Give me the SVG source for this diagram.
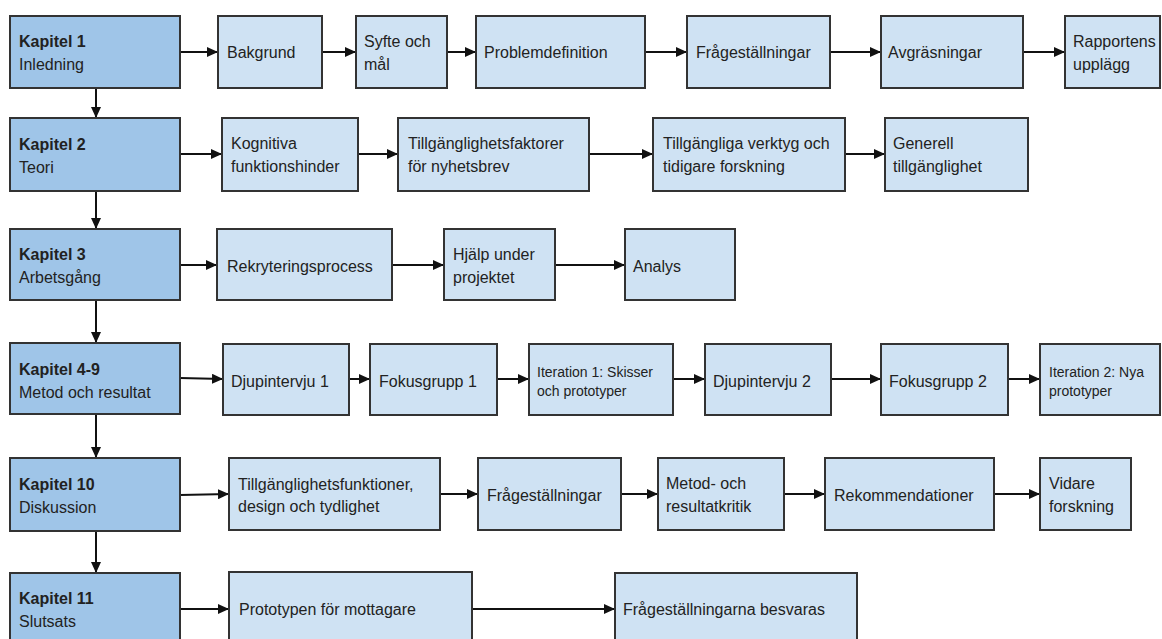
<svg xmlns="http://www.w3.org/2000/svg" width="1162" height="639" viewBox="0 0 1162 639">
<style>
.ch{fill:#9fc5e8;stroke:#333;stroke-width:2}
.sb{fill:#cfe2f3;stroke:#333;stroke-width:2}
text{font-family:"Liberation Sans",Arial,sans-serif;font-size:16px;fill:#222}
.b{font-weight:bold}
.s{font-size:14px}
.c{stroke:#111;stroke-width:2;fill:none;marker-end:url(#ah)}
</style>
<defs>
<marker id="ah" markerUnits="userSpaceOnUse" markerWidth="11" markerHeight="10" refX="11" refY="5" orient="auto">
<path d="M0,0 L11,5 L0,10 z" fill="#111"/>
</marker>
</defs>
<rect width="1162" height="639" fill="#fff"/>
<g id="connectors">
<line class="c" x1="96" y1="88" x2="96" y2="118"/>
<line class="c" x1="96" y1="191" x2="96" y2="229"/>
<line class="c" x1="96" y1="300" x2="96" y2="343"/>
<line class="c" x1="96" y1="414" x2="96" y2="458"/>
<line class="c" x1="96" y1="531" x2="96" y2="573"/>
<line class="c" x1="180" y1="52" x2="218" y2="52"/>
<line class="c" x1="322" y1="52" x2="356" y2="52"/>
<line class="c" x1="447" y1="52" x2="476" y2="52"/>
<line class="c" x1="645" y1="52" x2="687" y2="52"/>
<line class="c" x1="830" y1="52" x2="881" y2="52"/>
<line class="c" x1="1023" y1="52" x2="1065" y2="52"/>
<line class="c" x1="180" y1="154" x2="222" y2="154"/>
<line class="c" x1="358" y1="154" x2="398" y2="154"/>
<line class="c" x1="589" y1="154" x2="653" y2="154"/>
<line class="c" x1="845" y1="154" x2="885" y2="154"/>
<line class="c" x1="180" y1="265" x2="217" y2="265"/>
<line class="c" x1="392" y1="265" x2="444" y2="265"/>
<line class="c" x1="555" y1="265" x2="625" y2="265"/>
<line class="c" x1="180" y1="378" x2="223" y2="379"/>
<line class="c" x1="349" y1="379" x2="370" y2="379"/>
<line class="c" x1="497" y1="379" x2="529" y2="379"/>
<line class="c" x1="673" y1="379" x2="705" y2="379"/>
<line class="c" x1="831" y1="379" x2="881" y2="379"/>
<line class="c" x1="1008" y1="379" x2="1040" y2="379"/>
<line class="c" x1="180" y1="495" x2="229" y2="494"/>
<line class="c" x1="440" y1="494" x2="478" y2="494"/>
<line class="c" x1="621" y1="494" x2="658" y2="494"/>
<line class="c" x1="784" y1="494" x2="825" y2="494"/>
<line class="c" x1="994" y1="494" x2="1040" y2="494"/>
<line class="c" x1="180" y1="609" x2="229" y2="609"/>
<line class="c" x1="472" y1="609" x2="615" y2="609"/>
</g>
<g id="k1"><rect class="ch" x="10" y="16" width="170" height="72"/><text class="b" x="19" y="47">Kapitel 1</text><text x="19" y="70">Inledning</text></g>
<g id="bakgrund"><rect class="sb" x="218" y="16" width="104" height="72"/><text x="227" y="58">Bakgrund</text></g>
<g id="syfte"><rect class="sb" x="356" y="16" width="91" height="72"/><text x="364" y="47">Syfte och</text><text x="364" y="70">mål</text></g>
<g id="problem"><rect class="sb" x="476" y="16" width="169" height="72"/><text x="484" y="58">Problemdefinition</text></g>
<g id="fragor1"><rect class="sb" x="687" y="16" width="143" height="72"/><text x="696" y="58">Frågeställningar</text></g>
<g id="avgr"><rect class="sb" x="881" y="16" width="142" height="72"/><text x="888" y="58">Avgräsningar</text></g>
<g id="rapport"><rect class="sb" x="1065" y="16" width="95" height="72"/><text x="1073" y="47">Rapportens</text><text x="1073" y="70">upplägg</text></g>

<g id="k2"><rect class="ch" x="10" y="118" width="170" height="73"/><text class="b" x="19" y="150">Kapitel 2</text><text x="19" y="173">Teori</text></g>
<g id="kognitiva"><rect class="sb" x="222" y="118" width="136" height="73"/><text x="231" y="149">Kognitiva</text><text x="231" y="172">funktionshinder</text></g>
<g id="tfaktorer"><rect class="sb" x="398" y="118" width="191" height="73"/><text x="408" y="149">Tillgänglighetsfaktorer</text><text x="408" y="172">för nyhetsbrev</text></g>
<g id="verktyg"><rect class="sb" x="653" y="118" width="192" height="73"/><text x="663" y="149">Tillgängliga verktyg och</text><text x="663" y="172">tidigare forskning</text></g>
<g id="generell"><rect class="sb" x="885" y="118" width="143" height="73"/><text x="893" y="149">Generell</text><text x="893" y="172">tillgänglighet</text></g>

<g id="k3"><rect class="ch" x="10" y="229" width="170" height="71"/><text class="b" x="19" y="260">Kapitel 3</text><text x="19" y="283">Arbetsgång</text></g>
<g id="rekr"><rect class="sb" x="217" y="229" width="175" height="71"/><text x="227" y="272">Rekryteringsprocess</text></g>
<g id="hjalp"><rect class="sb" x="444" y="229" width="111" height="71"/><text x="453" y="260">Hjälp under</text><text x="453" y="283">projektet</text></g>
<g id="analys"><rect class="sb" x="625" y="229" width="110" height="71"/><text x="633" y="272">Analys</text></g>

<g id="k4"><rect class="ch" x="10" y="343" width="170" height="71"/><text class="b" x="19" y="375">Kapitel 4-9</text><text x="19" y="398">Metod och resultat</text></g>
<g id="dj1"><rect class="sb" x="223" y="344" width="126" height="71"/><text x="231" y="387">Djupintervju 1</text></g>
<g id="fg1"><rect class="sb" x="370" y="344" width="127" height="71"/><text x="379" y="387">Fokusgrupp 1</text></g>
<g id="it1"><rect class="sb" x="529" y="344" width="144" height="71"/><text class="s" x="537" y="377">Iteration 1: Skisser</text><text class="s" x="537" y="396">och prototyper</text></g>
<g id="dj2"><rect class="sb" x="705" y="344" width="126" height="71"/><text x="713" y="387">Djupintervju 2</text></g>
<g id="fg2"><rect class="sb" x="881" y="344" width="127" height="71"/><text x="889" y="387">Fokusgrupp 2</text></g>
<g id="it2"><rect class="sb" x="1040" y="344" width="120" height="71"/><text class="s" x="1049" y="377">Iteration 2: Nya</text><text class="s" x="1049" y="396">prototyper</text></g>

<g id="k10"><rect class="ch" x="10" y="458" width="170" height="73"/><text class="b" x="19" y="490">Kapitel 10</text><text x="19" y="513">Diskussion</text></g>
<g id="tfunk"><rect class="sb" x="229" y="458" width="211" height="72"/><text x="238" y="490">Tillgänglighetsfunktioner,</text><text x="238" y="512">design och tydlighet</text></g>
<g id="fragor2"><rect class="sb" x="478" y="458" width="143" height="72"/><text x="487" y="501">Frågeställningar</text></g>
<g id="metod"><rect class="sb" x="658" y="458" width="126" height="72"/><text x="666" y="489">Metod- och</text><text x="666" y="512">resultatkritik</text></g>
<g id="rek"><rect class="sb" x="825" y="458" width="169" height="72"/><text x="834" y="501">Rekommendationer</text></g>
<g id="vidare"><rect class="sb" x="1040" y="458" width="91" height="72"/><text x="1049" y="489">Vidare</text><text x="1049" y="512">forskning</text></g>

<g id="k11"><rect class="ch" x="10" y="573" width="170" height="75"/><text class="b" x="19" y="604">Kapitel 11</text><text x="19" y="627">Slutsats</text></g>
<g id="proto"><rect class="sb" x="229" y="572" width="243" height="76"/><text x="239" y="615">Prototypen för mottagare</text></g>
<g id="besvaras"><rect class="sb" x="615" y="573" width="242" height="75"/><text x="623" y="615">Frågeställningarna besvaras</text></g>
</svg>
